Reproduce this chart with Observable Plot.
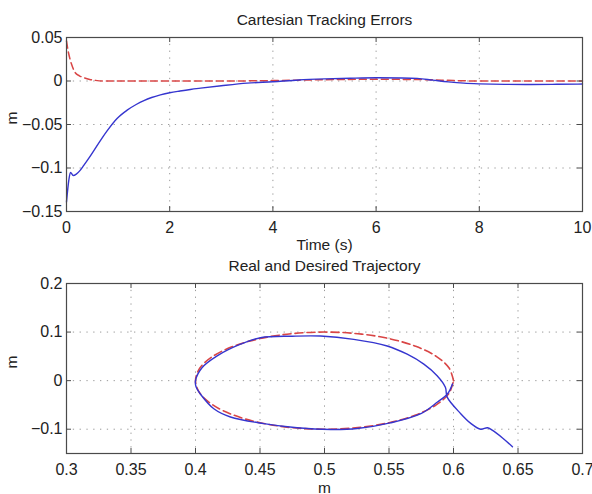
<!DOCTYPE html>
<html>
<head>
<meta charset="utf-8">
<script src="https://cdn.jsdelivr.net/npm/d3@7"></script>
<script src="https://cdn.jsdelivr.net/npm/@observablehq/plot@0.6"></script>
<style>
  html, body { margin: 0; padding: 0; background: #fff; }
  #chart { width: 592px; }
  #chart svg { display: block; }
</style>
</head>
<body>
<div id="chart"></div>
<script>
// ---------- Data ----------
const topTitle = "Cartesian Tracking Errors";
const topXLabel = "Time (s)";
const botTitle = "Real and Desired Trajectory";
const botXLabel = "m";
const yLabel = "m";

const topXTicks = [0, 2, 4, 6, 8, 10];
const topYTicks = [0.05, 0, -0.05, -0.1, -0.15];
const botXTicks = [0.3, 0.35, 0.4, 0.45, 0.5, 0.55, 0.6, 0.65, 0.7];
const botYTicks = [0.2, 0.1, 0, -0.1];

// top panel: error vs time
const tBlue = [0, 0.045, 0.077, 0.13, 0.19, 0.26, 0.335, 0.43, 0.53, 0.65, 0.79, 0.98, 1.175, 1.35, 1.5, 1.65, 1.82, 2.0, 2.2, 2.4, 2.6, 3.0, 3.5, 4.0, 4.5, 5.0, 5.5, 6.0, 6.5, 6.8, 7.1, 7.4, 7.7, 8.0, 8.5, 9.0, 9.5, 10];
const eBlue = [-0.139, -0.114, -0.105, -0.1086, -0.107, -0.103, -0.097, -0.089, -0.080, -0.069, -0.057, -0.043, -0.0335, -0.027, -0.0225, -0.019, -0.016, -0.0135, -0.0115, -0.0097, -0.0082, -0.0055, -0.0025, -0.0008, 0.0012, 0.0024, 0.0032, 0.0037, 0.0035, 0.003, 0.001, -0.001, -0.0025, -0.0033, -0.0039, -0.004, -0.0038, -0.0035];
const tRed = [0, 0.03, 0.06, 0.1, 0.17, 0.25, 0.335, 0.45, 0.55, 0.7, 1, 2, 3, 4, 5, 6, 7, 7.5, 8, 9, 10];
const eRed = [0.046, 0.035, 0.027, 0.019, 0.0095, 0.006, 0.0038, 0.0018, 0.0008, 0, 0, 0, 0, 0.0005, 0.0015, 0.002, 0.0015, 0.0005, 0, 0, 0];

// bottom panel: trajectories (x, y in m)
const desiredX = [0.600, 0.5966, 0.5866, 0.5707, 0.550, 0.5259, 0.500, 0.4741, 0.450, 0.4293, 0.4134, 0.4034, 0.400, 0.4034, 0.4134, 0.4293, 0.450, 0.4741, 0.500, 0.5259, 0.550, 0.5707, 0.5866, 0.5966, 0.600];
const desiredY = [0.000, 0.0259, 0.050, 0.0707, 0.0866, 0.0966, 0.100, 0.0966, 0.0866, 0.0707, 0.050, 0.0259, 0.000, -0.0259, -0.050, -0.0707, -0.0866, -0.0966, -0.100, -0.0966, -0.0866, -0.0707, -0.050, -0.0259, 0.000];
const realX = [0.6457, 0.638, 0.630, 0.6263, 0.6211, 0.6134, 0.6056, 0.5951, 0.5937, 0.5873, 0.577, 0.5641, 0.5486, 0.5227, 0.4969, 0.4750, 0.4504, 0.4349, 0.4168, 0.4052, 0.400, 0.4005, 0.4045, 0.4142, 0.4271, 0.453, 0.4788, 0.5047, 0.5253, 0.551, 0.5747, 0.5876, 0.5954, 0.5992];
const realY = [-0.136, -0.118, -0.102, -0.097, -0.100, -0.088, -0.068, -0.034, -0.0136, 0.0102, 0.034, 0.0544, 0.0714, 0.085, 0.0918, 0.0915, 0.0884, 0.075, 0.051, 0.027, 0.000, -0.013, -0.030, -0.0578, -0.0748, -0.0884, -0.097, -0.1005, -0.0986, -0.087, -0.068, -0.044, -0.027, -0.0068];

// ---------- Styles ----------
const BLUE = "#3535cf";
const RED = "#d94545";
const GRID = "#9a9a9a";
const FRAME = "#4a4a4a";
const FONT = "'Liberation Sans', Arial, Helvetica, sans-serif";
const fmt = d3.format("~g");

function panel({width, height, mt, mb, ml, mr, xDomain, yDomain, xTicks, yTicks, series, title, xLabel, titleDy, xLabelDy}) {
  const innerW = width - ml - mr;
  const innerH = height - mt - mb;
  const xGrid = xTicks.slice(1, -1);
  const yGrid = yTicks.filter(v => v > yDomain[0] && v < yDomain[1]);
  return Plot.plot({
    width, height,
    marginTop: mt, marginBottom: mb, marginLeft: ml, marginRight: mr,
    style: {fontFamily: FONT, fontSize: "16px", color: "#222", background: "#fff", overflow: "visible"},
    x: {domain: xDomain, ticks: xTicks, tickSize: 0, tickPadding: 10, tickFormat: fmt, label: null},
    y: {domain: yDomain, ticks: yTicks, tickSize: 0, tickPadding: 4, tickFormat: fmt, label: null},
    marks: [
      Plot.ruleX(xGrid, {x: d => d, stroke: GRID, strokeWidth: 1, strokeDasharray: "1.3,5.5"}),
      Plot.ruleY(yGrid, {y: d => d, stroke: GRID, strokeWidth: 1, strokeDasharray: "1.3,5.5"}),
      ...series,
      Plot.tickX(xTicks, {x: d => d, insetTop: innerH - 5, stroke: FRAME}),
      Plot.tickX(xTicks, {x: d => d, insetBottom: innerH - 5, stroke: FRAME}),
      Plot.tickY(yTicks, {y: d => d, insetRight: innerW - 5, stroke: FRAME}),
      Plot.tickY(yTicks, {y: d => d, insetLeft: innerW - 5, stroke: FRAME}),
      Plot.frame({stroke: FRAME, strokeWidth: 1.2}),
      Plot.text([title], {text: d => d, frameAnchor: "top", lineAnchor: "bottom", dy: titleDy, fontSize: 15.5, fill: "#222"}),
      Plot.text([xLabel], {text: d => d, frameAnchor: "bottom", lineAnchor: "bottom", dy: xLabelDy, fontSize: 15.5, fill: "#222"}),
      Plot.text([yLabel], {text: d => d, frameAnchor: "left", dx: -54, rotate: -90, fontSize: 15.5, fill: "#222"})
    ]
  });
}

const topRows = tBlue.map((t, i) => ({t, e: eBlue[i]}));
const topRed = tRed.map((t, i) => ({t, e: eRed[i]}));
const desired = desiredX.map((x, i) => ({x, y: desiredY[i]}));
const real = realX.map((x, i) => ({x, y: realY[i]}));

const topPanel = panel({
  width: 592, height: 253, mt: 37, mb: 42, ml: 66, mr: 10,
  xDomain: [0, 10], yDomain: [-0.15, 0.05],
  xTicks: topXTicks, yTicks: topYTicks,
  series: [
    Plot.line(topRed, {x: "t", y: "e", stroke: RED, strokeWidth: 1.5, strokeDasharray: "7,4", curve: "monotone-x"}),
    Plot.line(topRows, {x: "t", y: "e", stroke: BLUE, strokeWidth: 1.4, curve: "monotone-x"})
  ],
  title: topTitle, xLabel: topXLabel, titleDy: -13, xLabelDy: 38
});

const bottomPanel = panel({
  width: 592, height: 241, mt: 30, mb: 41, ml: 66, mr: 10,
  xDomain: [0.3, 0.7], yDomain: [-0.15, 0.2],
  xTicks: botXTicks, yTicks: botYTicks,
  series: [
    Plot.line(desired, {x: "x", y: "y", stroke: RED, strokeWidth: 1.6, strokeDasharray: "8,4", curve: "catmull-rom"}),
    Plot.line(real, {x: "x", y: "y", stroke: BLUE, strokeWidth: 1.4, curve: "catmull-rom"})
  ],
  title: botTitle, xLabel: botXLabel, titleDy: -13, xLabelDy: 39
});

const chart = document.getElementById("chart");
chart.appendChild(topPanel);
chart.appendChild(bottomPanel);
</script>
</body>
</html>
